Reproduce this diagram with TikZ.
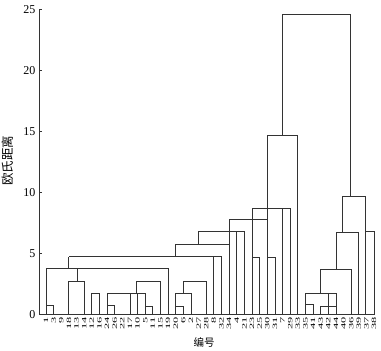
\documentclass[tikz,border=0pt]{standalone}
\usepackage{fontspec}
\setmainfont{Liberation Serif}
\newfontfamily\cjk{Noto Sans CJK SC}
\tikzset{
  link/.style={draw=black!80, line width=0.8pt},
  ticklabel/.style={anchor=east, inner sep=0pt, font=\fontsize{12}{14}\selectfont},
  leaflabel/.style={rotate=90, anchor=east, inner sep=0pt, font=\fontsize{6.5}{8}\selectfont}
}
\begin{document}
\begin{tikzpicture}[x=1pt, y=12.2pt]
\useasboundingbox (0,-2.91) rectangle (381,25.78);
% axes
\draw[link] (39,25) -- (39,0) -- (375,0);
\foreach \v in {0,5,...,25} {
  \draw[link] (39,\v) -- (42,\v);
  \node[ticklabel] (tick\v) at (35.5,\v) {\v};
}
\node[rotate=90, font=\cjk\fontsize{12.5}{13}\selectfont] (ylab) at (8,12.6) {欧氏距离};
\node[font=\cjk\fontsize{10.5}{11}\selectfont] (xlab) at (204,-2.3) {编号};
% leaves, one unit per sample
\begin{scope}[x=7.63pt, xshift=38.37pt]
\foreach \s [count=\i] in {1,3,9,18,13,14,12,16,24,26,22,17,10,5,11,15,19,20,6,2,27,28,8,32,34,4,21,23,25,30,31,7,29,33,35,41,43,42,44,40,36,39,37,38}
  \node[leaflabel] (leaf\s) at (\i,-0.22) {\scalebox{1.9}[1]{\s}};
% left group
\draw[link] (1,0) -- (1,3.8);
\draw[link] (1,0.75) -| (2,0);
\draw[link] (4,0) |- (6,2.75) -- (6,0);
\draw[link] (5.1,2.75) -- (5.1,3.8);
\draw[link] (7,0) |- (8,1.74) -- (8,0);
\draw[link] (9,0) |- (14,1.74);
\draw[link] (9,0.78) -| (10,0);
\foreach \i in {12,13,14}
  \draw[link] (\i,0) -- (\i,1.74);
\draw[link] (14,0.7) -| (15,0);
\draw[link] (12.9,1.74) |- (16,2.75) -- (16,0);
\draw[link] (1,3.8) -| (17,0);
\draw[link] (4,3.8) -- (4,4.75);
\draw[link] (18,0) |- (20,1.7) -- (20,0);
\draw[link] (18,0.7) -| (19,0);
\draw[link] (19,1.7) |- (22,2.75) -- (22,0);
\draw[link] (4,4.75) -| (24,0);
\draw[link] (23,0) -- (23,4.75);
\draw[link] (18,4.75) |- (25,5.75);
\draw[link] (21,5.75) |- (27,6.8) -- (27,0);
\draw[link] (26,0) -- (26,6.8);
\draw[link] (25,0) |- (30,7.8);
\draw[link] (28,0) |- (33,8.7) -- (33,0);
\draw[link] (32,0) -- (32,8.7);
\draw[link] (28,4.7) -| (29,0);
\draw[link] (30,0) |- (34,14.7) -- (34,0);
\draw[link] (30,4.7) -| (31,0);
\draw[link] (32,14.7) |- (40.9,24.6) -- (40.9,9.66);
% right group
\draw[link] (39.9,6.7) |- (42.9,9.66) -- (42.9,0);
\draw[link] (42.9,6.8) -| (44,0);
\draw[link] (39,3.7) |- (42,6.7) -- (42,0);
\draw[link] (36.9,1.74) |- (41,3.7) -- (41,0);
\draw[link] (35,0) |- (39,1.74) -- (39,0);
\draw[link] (38,0) -- (38,1.74);
\draw[link] (35,0.84) -| (36,0);
\draw[link] (37,0) |- (39,0.7);
\end{scope}
\end{tikzpicture}
\end{document}
